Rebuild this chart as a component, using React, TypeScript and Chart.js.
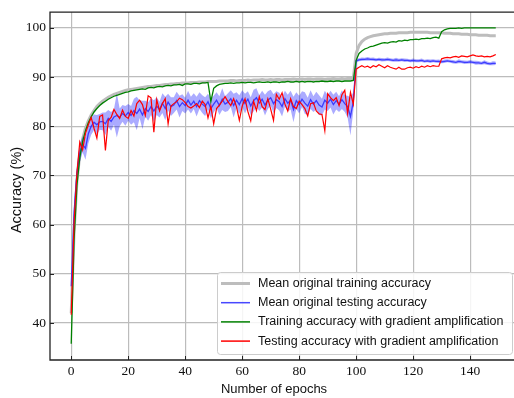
import React, { useEffect, useRef } from "react";
import { Chart, registerables } from "chart.js";
Chart.register(...registerables);

const epochs = Array.from({ length: 150 }, (_, i) => i);
const xTickValues = [0, 20, 40, 60, 80, 100, 120, 140];
const yTickValues = [40, 50, 60, 70, 80, 90, 100];
const legendLabels = [
  "Mean original training accuracy",
  "Mean original testing accuracy",
  "Training accuracy with gradient amplification",
  "Testing accuracy with gradient amplification",
];

const meanTrain = [
  42.0, 58.5, 68.8, 74.2, 77.4, 79.6, 81.1, 82.3, 83.2, 84.0,
  84.6, 85.1, 85.5, 85.9, 86.2, 86.5, 86.7, 86.9, 87.1, 87.3,
  87.4, 87.5, 87.6, 87.7, 87.8, 87.9, 88.0, 88.1, 88.1, 88.2,
  88.3, 88.3, 88.4, 88.5, 88.5, 88.6, 88.6, 88.7, 88.7, 88.8,
  88.8, 88.8, 88.9, 88.9, 88.9, 89.0, 89.0, 89.0, 89.1, 89.1,
  89.1, 89.1, 89.2, 89.2, 89.2, 89.2, 89.3, 89.3, 89.2, 89.3,
  89.3, 89.3, 89.4, 89.3, 89.4, 89.4, 89.4, 89.5, 89.4, 89.4,
  89.5, 89.4, 89.5, 89.5, 89.4, 89.5, 89.5, 89.5, 89.6, 89.5,
  89.5, 89.6, 89.5, 89.6, 89.6, 89.5, 89.6, 89.6, 89.6, 89.5,
  89.6, 89.6, 89.7, 89.6, 89.6, 89.7, 89.6, 89.7, 89.7, 89.7,
  94.8, 96.4, 97.2, 97.7, 98.0, 98.2, 98.4, 98.5, 98.6, 98.7,
  98.8, 98.8, 98.9, 98.9, 98.9, 99.0, 99.0, 99.0, 99.0, 99.1,
  99.1, 99.1, 99.1, 99.1, 99.1, 99.1, 99.0, 99.0, 99.0, 99.0,
  99.0, 98.9, 98.9, 98.9, 98.8, 98.8, 98.8, 98.7, 98.7, 98.7,
  98.6, 98.6, 98.6, 98.5, 98.5, 98.5, 98.5, 98.4, 98.4, 98.4,
];

const meanTest = [
  47.5, 62.5, 70.5, 74.5, 76.3, 75.5, 78.5, 80.0, 80.8, 80.3,
  80.9, 81.0, 80.5, 81.6, 81.0, 81.9, 82.2, 81.8, 82.6, 82.1,
  82.8, 82.2, 83.2, 82.6, 83.5, 82.3, 83.6, 83.0, 84.0, 83.1,
  84.1, 83.4, 84.7, 83.6, 84.9, 84.0, 84.3, 85.2, 84.0, 84.8,
  84.2, 85.3, 84.3, 85.1, 84.0, 85.2, 84.5, 84.0, 85.0, 83.6,
  84.5, 85.3, 84.2, 85.5, 84.5, 84.9, 85.6, 84.2, 85.3, 84.4,
  85.6, 84.6, 85.5, 84.1, 85.2, 85.8, 84.7, 85.5, 84.3, 85.3,
  85.8, 84.6, 85.4, 85.0, 84.0, 85.6, 84.7, 85.3, 83.4, 85.2,
  84.4, 85.5, 84.7, 84.1, 85.4, 84.5, 85.2, 84.3, 83.9, 85.3,
  84.7, 85.5, 84.4, 85.2, 84.5, 85.4, 84.6, 84.0, 82.0, 85.0,
  93.3, 93.5, 93.6, 93.6, 93.7, 93.6, 93.6, 93.5, 93.6, 93.5,
  93.5, 93.6, 93.5, 93.4, 93.5, 93.4, 93.5, 93.4, 93.4, 93.3,
  93.4, 93.3, 93.3, 93.4, 93.2, 93.3, 93.2, 93.3, 93.2, 93.2,
  93.1, 93.2, 93.3, 93.2, 93.1, 93.0, 93.2, 93.1, 93.0, 93.0,
  93.1, 93.0, 92.9, 92.9, 92.8, 93.0, 92.8, 92.7, 92.8, 92.8,
];

const testStd = [
  0.8, 1.8, 1.8, 1.9, 1.6, 2.3, 2.0, 1.7, 1.6, 2.0,
  1.6, 1.8, 2.3, 1.7, 1.9, 1.6, 4.5, 1.8, 1.7, 2.0,
  1.7, 1.9, 2.4, 3.4, 1.8, 2.9, 1.6, 1.9, 1.7, 2.2,
  1.8, 1.6, 2.0, 2.4, 1.7, 1.9, 1.6, 1.8, 2.2, 1.7,
  1.6, 1.9, 1.7, 1.6, 2.0, 1.7, 1.8, 1.9, 1.6, 2.0,
  1.7, 1.6, 1.9, 2.2, 1.6, 1.8, 1.7, 2.4, 1.6, 1.9,
  1.7, 2.0, 1.6, 1.8, 2.2, 1.9, 1.6, 1.7, 2.1, 1.8,
  1.6, 1.9, 1.7, 1.8, 2.0, 1.6, 1.7, 1.9, 2.6, 1.7,
  1.8, 1.6, 2.2, 1.7, 1.9, 1.6, 1.8, 2.0, 1.7, 1.9,
  1.6, 1.7, 2.0, 1.8, 1.6, 1.9, 1.7, 2.2, 3.9, 1.9,
  0.4, 0.3, 0.35, 0.3, 0.4, 0.3, 0.35, 0.3, 0.3, 0.35,
  0.3, 0.35, 0.3, 0.3, 0.4, 0.3, 0.3, 0.35, 0.3, 0.3,
  0.35, 0.3, 0.3, 0.35, 0.3, 0.3, 0.35, 0.3, 0.3, 0.35,
  0.3, 0.35, 0.3, 0.3, 0.35, 0.3, 0.4, 0.3, 0.35, 0.3,
  0.35, 0.3, 0.4, 0.35, 0.3, 0.4, 0.35, 0.3, 0.4, 0.35,
];

const trainGA = [
  35.8, 57.0, 68.0, 73.6, 76.9, 79.1, 80.7, 81.9, 82.9, 83.6,
  84.2, 84.7, 85.1, 85.5, 85.8, 86.1, 86.3, 86.5, 86.7, 86.9,
  87.0, 87.2, 87.3, 87.4, 87.5, 87.6, 87.5, 87.8, 87.9, 87.8,
  88.0, 88.1, 88.0, 88.2, 88.3, 88.2, 88.4, 88.4, 88.5, 88.3,
  88.6, 88.6, 88.5, 88.7, 88.7, 88.6, 88.8, 88.8, 88.9, 85.0,
  87.7, 88.2, 88.5, 88.6, 88.7, 88.7, 88.8, 88.7, 88.8, 88.8,
  88.9, 88.8, 88.9, 88.9, 88.8, 88.9, 89.0, 88.9, 88.9, 89.0,
  88.9, 89.0, 89.0, 88.9, 89.0, 89.0, 89.1, 89.0, 89.0, 89.1,
  89.0, 89.1, 89.0, 89.1, 89.1, 89.0, 89.1, 89.1, 89.2, 89.1,
  89.1, 89.2, 89.1, 89.2, 89.2, 89.1, 89.2, 89.2, 89.2, 89.3,
  93.4, 94.8, 95.3, 95.7, 95.9, 96.2, 96.3, 96.5, 96.7, 96.9,
  97.0, 96.9, 97.1, 97.2, 97.1, 97.4, 97.3, 97.5, 97.4, 97.6,
  97.6, 97.7, 97.6, 97.8, 97.8, 97.9, 97.8, 98.0, 98.1, 97.9,
  99.2, 99.6, 99.8, 99.9, 99.9, 99.9, 100.0, 99.9, 100.0, 100.0,
  100.0, 100.0, 100.0, 100.0, 100.0, 100.0, 100.0, 100.0, 100.0, 100.0,
];

const testGA = [
  41.7, 60.5, 70.5, 76.8, 75.2, 78.5, 80.3, 81.8, 79.6, 77.6,
  82.0, 82.3, 75.1, 81.2, 81.8, 83.4, 82.4, 81.6, 83.3, 82.0,
  81.6, 83.2, 82.1, 84.6, 85.3, 84.4, 82.2, 86.2, 85.8, 78.8,
  85.4, 83.1, 84.6, 85.6, 80.5, 84.1, 84.6, 85.0, 85.7, 85.4,
  84.8, 84.0, 83.7, 84.1, 84.6, 83.8, 85.1, 84.4, 81.7, 84.1,
  80.5, 83.6, 84.3, 85.1, 86.0, 85.0, 84.2, 85.6, 84.0, 81.2,
  84.1, 85.6, 83.0, 81.1, 85.1, 83.2, 86.0, 84.0, 83.4, 85.6,
  83.5, 81.2, 86.5, 85.5, 86.8, 84.5, 83.1, 85.6, 84.0, 83.6,
  85.1, 84.4, 83.6, 82.1, 84.6, 84.8, 83.1, 82.5, 82.4, 79.1,
  86.6, 85.8, 85.2, 85.8, 84.2, 86.4, 87.3, 82.6, 86.9, 84.5,
  91.6, 92.0, 92.3, 92.0, 92.2, 91.9, 92.3, 92.1, 92.5, 92.2,
  91.9, 92.3, 92.0, 91.8, 91.6, 92.0, 91.6, 91.6, 91.9, 92.0,
  91.8, 92.1, 91.9, 92.2, 92.0, 92.3, 92.1, 92.3, 92.2, 92.2,
  93.7, 93.9, 94.0, 93.9, 94.1, 94.2, 94.0, 94.3, 94.2, 94.1,
  94.3, 94.5, 94.3, 94.2, 94.3, 94.1, 94.2, 94.1, 94.3, 94.6,
];

const GRAY = "#bdbdbd";
const BLUE = "rgba(40,40,255,0.85)";
const BAND = "rgba(0,0,255,0.33)";
const GREEN = "#008000";
const RED = "#ff0000";

const pts = (vals: number[]) => vals.map((v, i) => ({ x: epochs[i], y: v }));

const decorPlugin = {
  id: "decor",
  afterDraw(chart: any) {
    const { ctx, chartArea: a, scales } = chart;
    const x = scales.x;
    const y = scales.y;
    ctx.save();
    ctx.strokeStyle = "#222";
    ctx.lineWidth = 1.3;
    ctx.beginPath();
    ctx.moveTo(a.left, a.top);
    ctx.lineTo(a.right, a.top);
    ctx.lineTo(a.right, a.bottom);
    ctx.lineTo(a.left, a.bottom);
    ctx.closePath();
    ctx.stroke();
    ctx.lineWidth = 1;
    ctx.beginPath();
    xTickValues.forEach((v) => {
      const px = Math.round(x.getPixelForValue(v)) + 0.5;
      ctx.moveTo(px, a.bottom);
      ctx.lineTo(px, a.bottom - 4);
    });
    yTickValues.forEach((v) => {
      const py = Math.round(y.getPixelForValue(v)) + 0.5;
      ctx.moveTo(a.left, py);
      ctx.lineTo(a.left + 4, py);
    });
    ctx.stroke();
    ctx.fillStyle = "#111";
    ctx.font = "13px 'Liberation Sans'";
    ctx.textAlign = "center";
    ctx.textBaseline = "middle";
    ctx.fillText("Number of epochs", 274, 389);
    ctx.save();
    ctx.translate(17, 190);
    ctx.rotate(-Math.PI / 2);
    ctx.font = "14.5px 'Liberation Sans'";
    ctx.fillText("Accuracy (%)", 0, 0);
    ctx.restore();
    const lx = 217, ly = 272, lw = 295, lh = 82;
    ctx.fillStyle = "rgba(255,255,255,0.85)";
    ctx.strokeStyle = "#cccccc";
    ctx.lineWidth = 1;
    ctx.beginPath();
    ctx.roundRect(lx + 0.5, ly + 0.5, lw, lh, 3);
    ctx.fill();
    ctx.stroke();
    const colors = [GRAY, BLUE, GREEN, RED];
    const widths = [3, 1.5, 1.5, 1.5];
    ctx.font = "12.5px 'Liberation Sans'";
    ctx.textAlign = "left";
    legendLabels.forEach((label, i) => {
      const ry = 283.5 + i * 19.2;
      ctx.strokeStyle = colors[i];
      ctx.lineWidth = widths[i];
      ctx.beginPath();
      ctx.moveTo(221, ry);
      ctx.lineTo(250, ry);
      ctx.stroke();
      ctx.fillStyle = "#111";
      ctx.fillText(label, 258, ry);
    });
    ctx.restore();
  },
};

export default function App() {
  const ref = useRef<HTMLCanvasElement>(null);
  useEffect(() => {
    if (!ref.current) return;
    const chart = new Chart(ref.current, {
      type: "line",
      data: {
        datasets: [
          { label: legendLabels[3], data: pts(testGA), borderColor: RED, borderWidth: 1.2, pointRadius: 0, order: 0, fill: false },
          { label: legendLabels[2], data: pts(trainGA), borderColor: GREEN, borderWidth: 1.3, pointRadius: 0, order: 1, fill: false },
          { label: legendLabels[1], data: pts(meanTest), borderColor: BLUE, borderWidth: 1.3, pointRadius: 0, order: 2, fill: false },
          { label: "band+", data: pts(meanTest.map((v, i) => v + testStd[i])), borderWidth: 0, borderColor: "rgba(0,0,0,0)", backgroundColor: BAND, pointRadius: 0, order: 3, fill: "+1" },
          { label: "band-", data: pts(meanTest.map((v, i) => v - testStd[i])), borderWidth: 0, borderColor: "rgba(0,0,0,0)", pointRadius: 0, order: 4, fill: false },
          { label: legendLabels[0], data: pts(meanTrain), borderColor: GRAY, borderWidth: 3, pointRadius: 0, order: 5, fill: false },
        ],
      },
      options: {
        animation: false,
        responsive: false,
        devicePixelRatio: 1,
        layout: { padding: { top: 11, right: 3, left: 0, bottom: 0 } },
        plugins: { legend: { display: false }, tooltip: { enabled: false } },
        elements: { line: { tension: 0 } },
        scales: {
          x: {
            type: "linear",
            min: -7.45,
            max: 156.45,
            afterBuildTicks: (s: any) => { s.ticks = xTickValues.map((v) => ({ value: v })); },
            afterFit: (s: any) => { s.height = 38; },
            grid: { color: "#bcbcbc", lineWidth: 1.2, drawTicks: false },
            border: { display: false },
            ticks: { padding: 3, color: "#111", font: { family: "'Liberation Serif'", size: 13.5 }, maxRotation: 0, autoSkip: false },
          },
          y: {
            min: 32.5,
            max: 103.2,
            afterBuildTicks: (s: any) => { s.ticks = yTickValues.map((v) => ({ value: v })); },
            afterFit: (s: any) => { s.width = 50; },
            grid: { color: "#bcbcbc", lineWidth: 1.2, drawTicks: false },
            border: { display: false },
            ticks: { padding: 4, color: "#111", font: { family: "'Liberation Serif'", size: 13.5 }, autoSkip: false },
          },
        },
      },
      plugins: [decorPlugin],
    } as any);
    return () => chart.destroy();
  }, []);
  return (
    <div style={{ position: "fixed", left: 0, top: 0, width: 514, height: 398, overflow: "hidden", background: "#fff" }}>
      <canvas ref={ref} width={520} height={398} style={{ display: "block" }} />
    </div>
  );
}
